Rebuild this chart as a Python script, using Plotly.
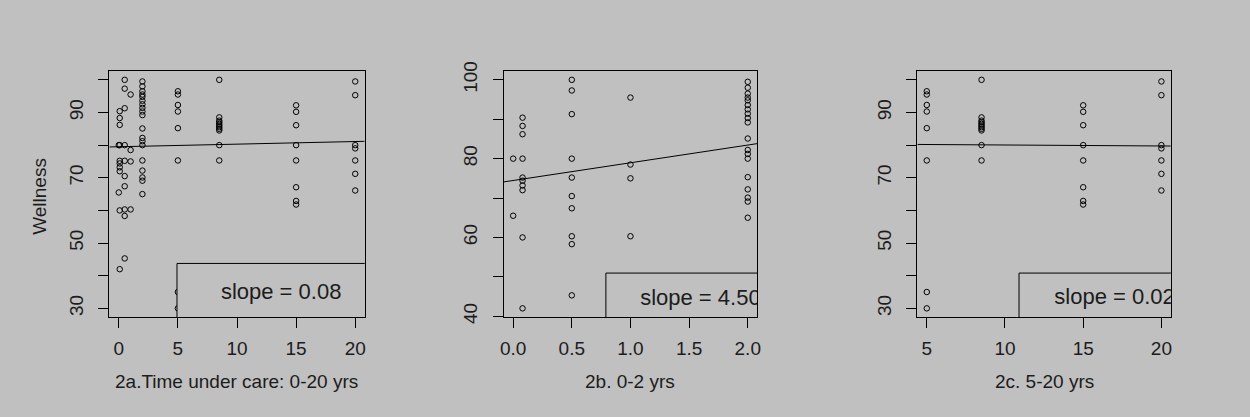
import numpy as np
import plotly.graph_objects as go

# ---------------- data ----------------
# Wellness scores grouped by time under care (years)
wellness_at_0 = [80, 65.5]
wellness_at_008 = [90.4, 88.3, 86.2, 80, 75.2, 74.4, 73.2, 72, 60, 42]
wellness_at_05 = [100, 97.3, 91.3, 80, 75.2, 70.5, 67.4, 60.3, 58.3, 45.3]
wellness_at_1 = [95.5, 78.5, 75, 60.3]
wellness_at_2 = [99.5, 98, 96.5, 95.5, 94.8, 93.6, 92.5, 91.4, 90.3, 89.2,
                 85.1, 82.2, 81.2, 80, 75.3, 72.2, 70.1, 69.1, 65]
wellness_at_5 = [96.5, 95.5, 92.3, 90.3, 85.2, 75.3, 35, 30]
wellness_at_85 = [100, 88.5, 87.5, 87, 86.5, 86, 85.5, 85, 84.5, 80, 75.3]
wellness_at_15 = [92.2, 90.2, 86.1, 80, 75.3, 67.1, 62.9, 61.8]
wellness_at_20 = [99.5, 95.3, 80, 79, 75.3, 71.2, 66.1]

care_times = [0, 0.08, 0.5, 1.0, 2.0, 5, 8.5, 15, 20]
wellness_groups = [wellness_at_0, wellness_at_008, wellness_at_05, wellness_at_1,
                   wellness_at_2, wellness_at_5, wellness_at_85, wellness_at_15,
                   wellness_at_20]

# panels: subset limits on time under care
panel_limits = [(0, 20), (0, 2), (5, 20)]
panel_titles = ["2a.Time under care: 0-20 yrs", "2b. 0-2 yrs", "2c. 5-20 yrs"]
slope_labels = ["slope = 0.08", "slope = 4.50", "slope = 0.02"]

# fitted lines as drawn (intercept at time 0, slope)
line_intercepts = [79.5, 74.45, 80.34]
line_slopes = [0.08, 4.50, -0.03]

x_tickvals = [[0, 5, 10, 15, 20], [0.0, 0.5, 1.0, 1.5, 2.0], [5, 10, 15, 20]]
x_ticktext = [["0", "5", "10", "15", "20"], ["0.0", "0.5", "1.0", "1.5", "2.0"],
              ["5", "10", "15", "20"]]
y_tickvals = [[30, 40, 50, 60, 70, 80, 90, 100], [40, 50, 60, 70, 80, 90, 100],
              [30, 40, 50, 60, 70, 80, 90, 100]]
y_ticktext = [["30", "", "50", "", "70", "", "90", ""],
              ["40", "", "60", "", "80", "", "100"],
              ["30", "", "50", "", "70", "", "90", ""]]

# ---------------- styling ----------------
BG = "#c0c0c0"
INK = "#1c1c1c"
FONT = "Liberation Sans, Arial, sans-serif"
W, H = 1250, 417

x_domains = [(106 / W, 363 / W), (503 / W, 758 / W), (919.3 / W, 1174.3 / W)]
y_domain = (1 - 320 / H, 1 - 64 / H)

# legend box (fractions of the plot region) and text position
box_left = [0.265, 0.403, 0.401]
box_top = [0.219, 0.18, 0.18]
text_x = [0.673, 0.776, 0.778]
text_y = [0.098, 0.071, 0.075]

x_all = np.concatenate([[t] * len(g) for t, g in zip(care_times, wellness_groups)])
y_all = np.concatenate(wellness_groups)

fig = go.Figure()
layout_axes = {}
annotations = []

for i in range(3):
    xa = "x" if i == 0 else f"x{i + 1}"
    ya = "y" if i == 0 else f"y{i + 1}"
    lo, hi = panel_limits[i]
    sel = (x_all >= lo) & (x_all <= hi)
    xs, ys = x_all[sel], y_all[sel]
    xspan = xs.max() - xs.min()
    yspan = ys.max() - ys.min()
    xr = [xs.min() - 0.04 * xspan, xs.max() + 0.04 * xspan]
    yr = [ys.min() - 0.04 * yspan, ys.max() + 0.04 * yspan]
    xw = xr[1] - xr[0]
    yw = yr[1] - yr[0]

    fig.add_trace(go.Scatter(
        x=xs, y=ys, mode="markers", xaxis=xa, yaxis=ya,
        marker=dict(symbol="circle-open", size=5.5, color="black",
                    line=dict(width=1, color="black")),
        hoverinfo="skip"))

    lx = np.array(xr)
    ly = line_intercepts[i] + line_slopes[i] * lx
    fig.add_trace(go.Scatter(
        x=lx, y=ly, mode="lines", xaxis=xa, yaxis=ya,
        line=dict(color="black", width=1), hoverinfo="skip"))

    bx0 = xr[0] + box_left[i] * xw
    by1 = yr[0] + box_top[i] * yw
    bx1 = xr[1] + 0.2 * xw
    by0 = yr[0] - 0.2 * yw
    fig.add_trace(go.Scatter(
        x=[bx0, bx1, bx1, bx0, bx0], y=[by1, by1, by0, by0, by1],
        mode="lines", fill="toself", fillcolor=BG, xaxis=xa, yaxis=ya,
        line=dict(color="black", width=1), hoverinfo="skip"))

    fig.add_trace(go.Scatter(
        x=[xr[0] + text_x[i] * xw], y=[yr[0] + text_y[i] * yw],
        mode="text", text=[slope_labels[i]], textposition="middle center",
        textfont=dict(family=FONT, size=22, color=INK),
        cliponaxis=True, xaxis=xa, yaxis=ya, hoverinfo="skip"))

    axis_common = dict(
        showline=True, mirror=True, linecolor="black", linewidth=1,
        ticks="outside", ticklen=10, tickwidth=1, tickcolor="black",
        showgrid=False, zeroline=False, fixedrange=True,
        tickfont=dict(family=FONT, size=19, color=INK))
    layout_axes["xaxis" if i == 0 else f"xaxis{i + 1}"] = dict(
        domain=list(x_domains[i]), range=xr, anchor=ya,
        tickmode="array", tickvals=x_tickvals[i], ticktext=x_ticktext[i],
        ticklabelstandoff=4, **axis_common)
    layout_axes["yaxis" if i == 0 else f"yaxis{i + 1}"] = dict(
        domain=list(y_domain), range=yr, anchor=xa,
        tickmode="array", tickvals=y_tickvals[i], ticktext=y_ticktext[i],
        tickangle=-90, ticklabelstandoff=8, **axis_common)

    annotations.append(dict(
        text=panel_titles[i], xref="paper", yref="paper",
        x=(x_domains[i][0] + x_domains[i][1]) / 2, y=1 - 386 / H,
        xanchor="center", yanchor="middle", showarrow=False,
        font=dict(family=FONT, size=19, color=INK)))

annotations.append(dict(
    text="Wellness", xref="paper", yref="paper", x=35 / W, y=1 - 194 / H,
    xanchor="center", yanchor="middle", textangle=-90, showarrow=False,
    font=dict(family=FONT, size=19, color=INK)))

fig.update_layout(
    width=W, height=H, margin=dict(l=0, r=0, t=0, b=0),
    paper_bgcolor=BG, plot_bgcolor=BG, showlegend=False,
    annotations=annotations, **layout_axes)

fig.write_html(
    "out.html", config={"displayModeBar": False, "staticPlot": True},
    post_script="document.body.style.margin='0';document.body.style.padding='0';"
                "document.body.style.background='#c0c0c0';")
